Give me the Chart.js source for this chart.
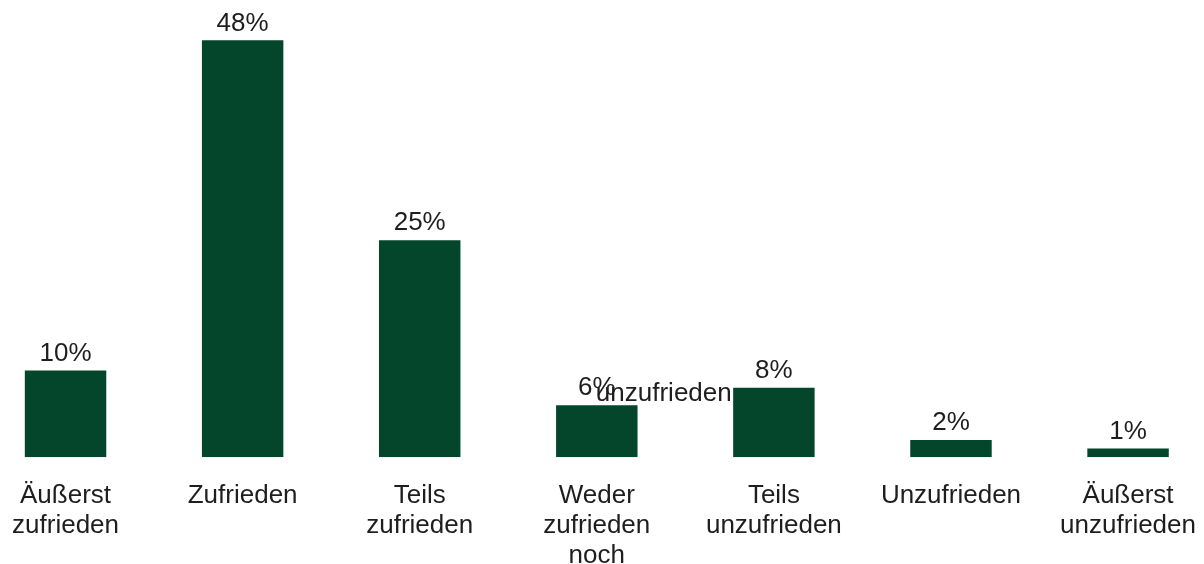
<!DOCTYPE html>
<html>
<head>
<meta charset="utf-8">
<script src="https://cdn.jsdelivr.net/npm/chart.js@4.4.0/dist/chart.umd.min.js"></script>
<style>
  html, body { margin: 0; padding: 0; background: #fff; overflow: hidden; }
  #chart { position: relative; left: -23px; display: block; }
</style>
</head>
<body>
<canvas id="chart" width="1243" height="606"></canvas>
<script>
const CATEGORIES = [
  ["Äußerst", "zufrieden"],
  ["Zufrieden"],
  ["Teils", "zufrieden"],
  ["Weder", "zufrieden", "noch"],
  ["Teils", "unzufrieden"],
  ["Unzufrieden"],
  ["Äußerst", "unzufrieden"]
];
const VALUES = [10, 48, 25, 6, 8, 2, 1];
// last line of the "Weder zufrieden noch unzufrieden" label, which spills up into the plot
const OVERFLOW_TEXT = "unzufrieden";
const OVERFLOW_INDEX = 3;

const BAR_COLOR = "#03462b";
const TEXT_COLOR = "#1e1e1e";
const FONT = "'Liberation Sans', Arial, Helvetica, sans-serif";

const valueLabels = {
  id: "valueLabels",
  afterDatasetsDraw(chart) {
    const ctx = chart.ctx;
    const meta = chart.getDatasetMeta(0);
    ctx.save();
    ctx.font = "26px " + FONT;
    ctx.fillStyle = TEXT_COLOR;
    ctx.textAlign = "center";
    ctx.textBaseline = "bottom";
    meta.data.forEach((bar, i) => {
      ctx.fillText(VALUES[i] + "%", bar.x, bar.y - 4);
    });
    // stray wrapped label line
    const x = chart.scales.x.getPixelForValue(OVERFLOW_INDEX) + 67;
    const y = chart.scales.y.getPixelForValue(VALUES[OVERFLOW_INDEX]) - 11;
    ctx.textBaseline = "middle";
    ctx.fillText(OVERFLOW_TEXT, x, y);
    ctx.restore();
  }
};

new Chart(document.getElementById("chart"), {
  type: "bar",
  data: {
    labels: CATEGORIES,
    datasets: [{
      data: VALUES,
      backgroundColor: BAR_COLOR,
      categoryPercentage: 1,
      barPercentage: 0.46
    }]
  },
  options: {
    responsive: false,
    animation: false,
    layout: { padding: { top: 23, left: 0, right: 0, bottom: 11 } },
    plugins: {
      legend: { display: false },
      tooltip: { enabled: false }
    },
    scales: {
      x: {
        grid: { display: false, drawTicks: false },
        border: { display: false },
        ticks: {
          color: TEXT_COLOR,
          font: { family: FONT, size: 26, lineHeight: 1.15 },
          padding: 24,
          maxRotation: 0,
          autoSkip: false
        }
      },
      y: {
        display: false,
        min: 0,
        max: 50
      }
    }
  },
  plugins: [valueLabels]
});
</script>
</body>
</html>
